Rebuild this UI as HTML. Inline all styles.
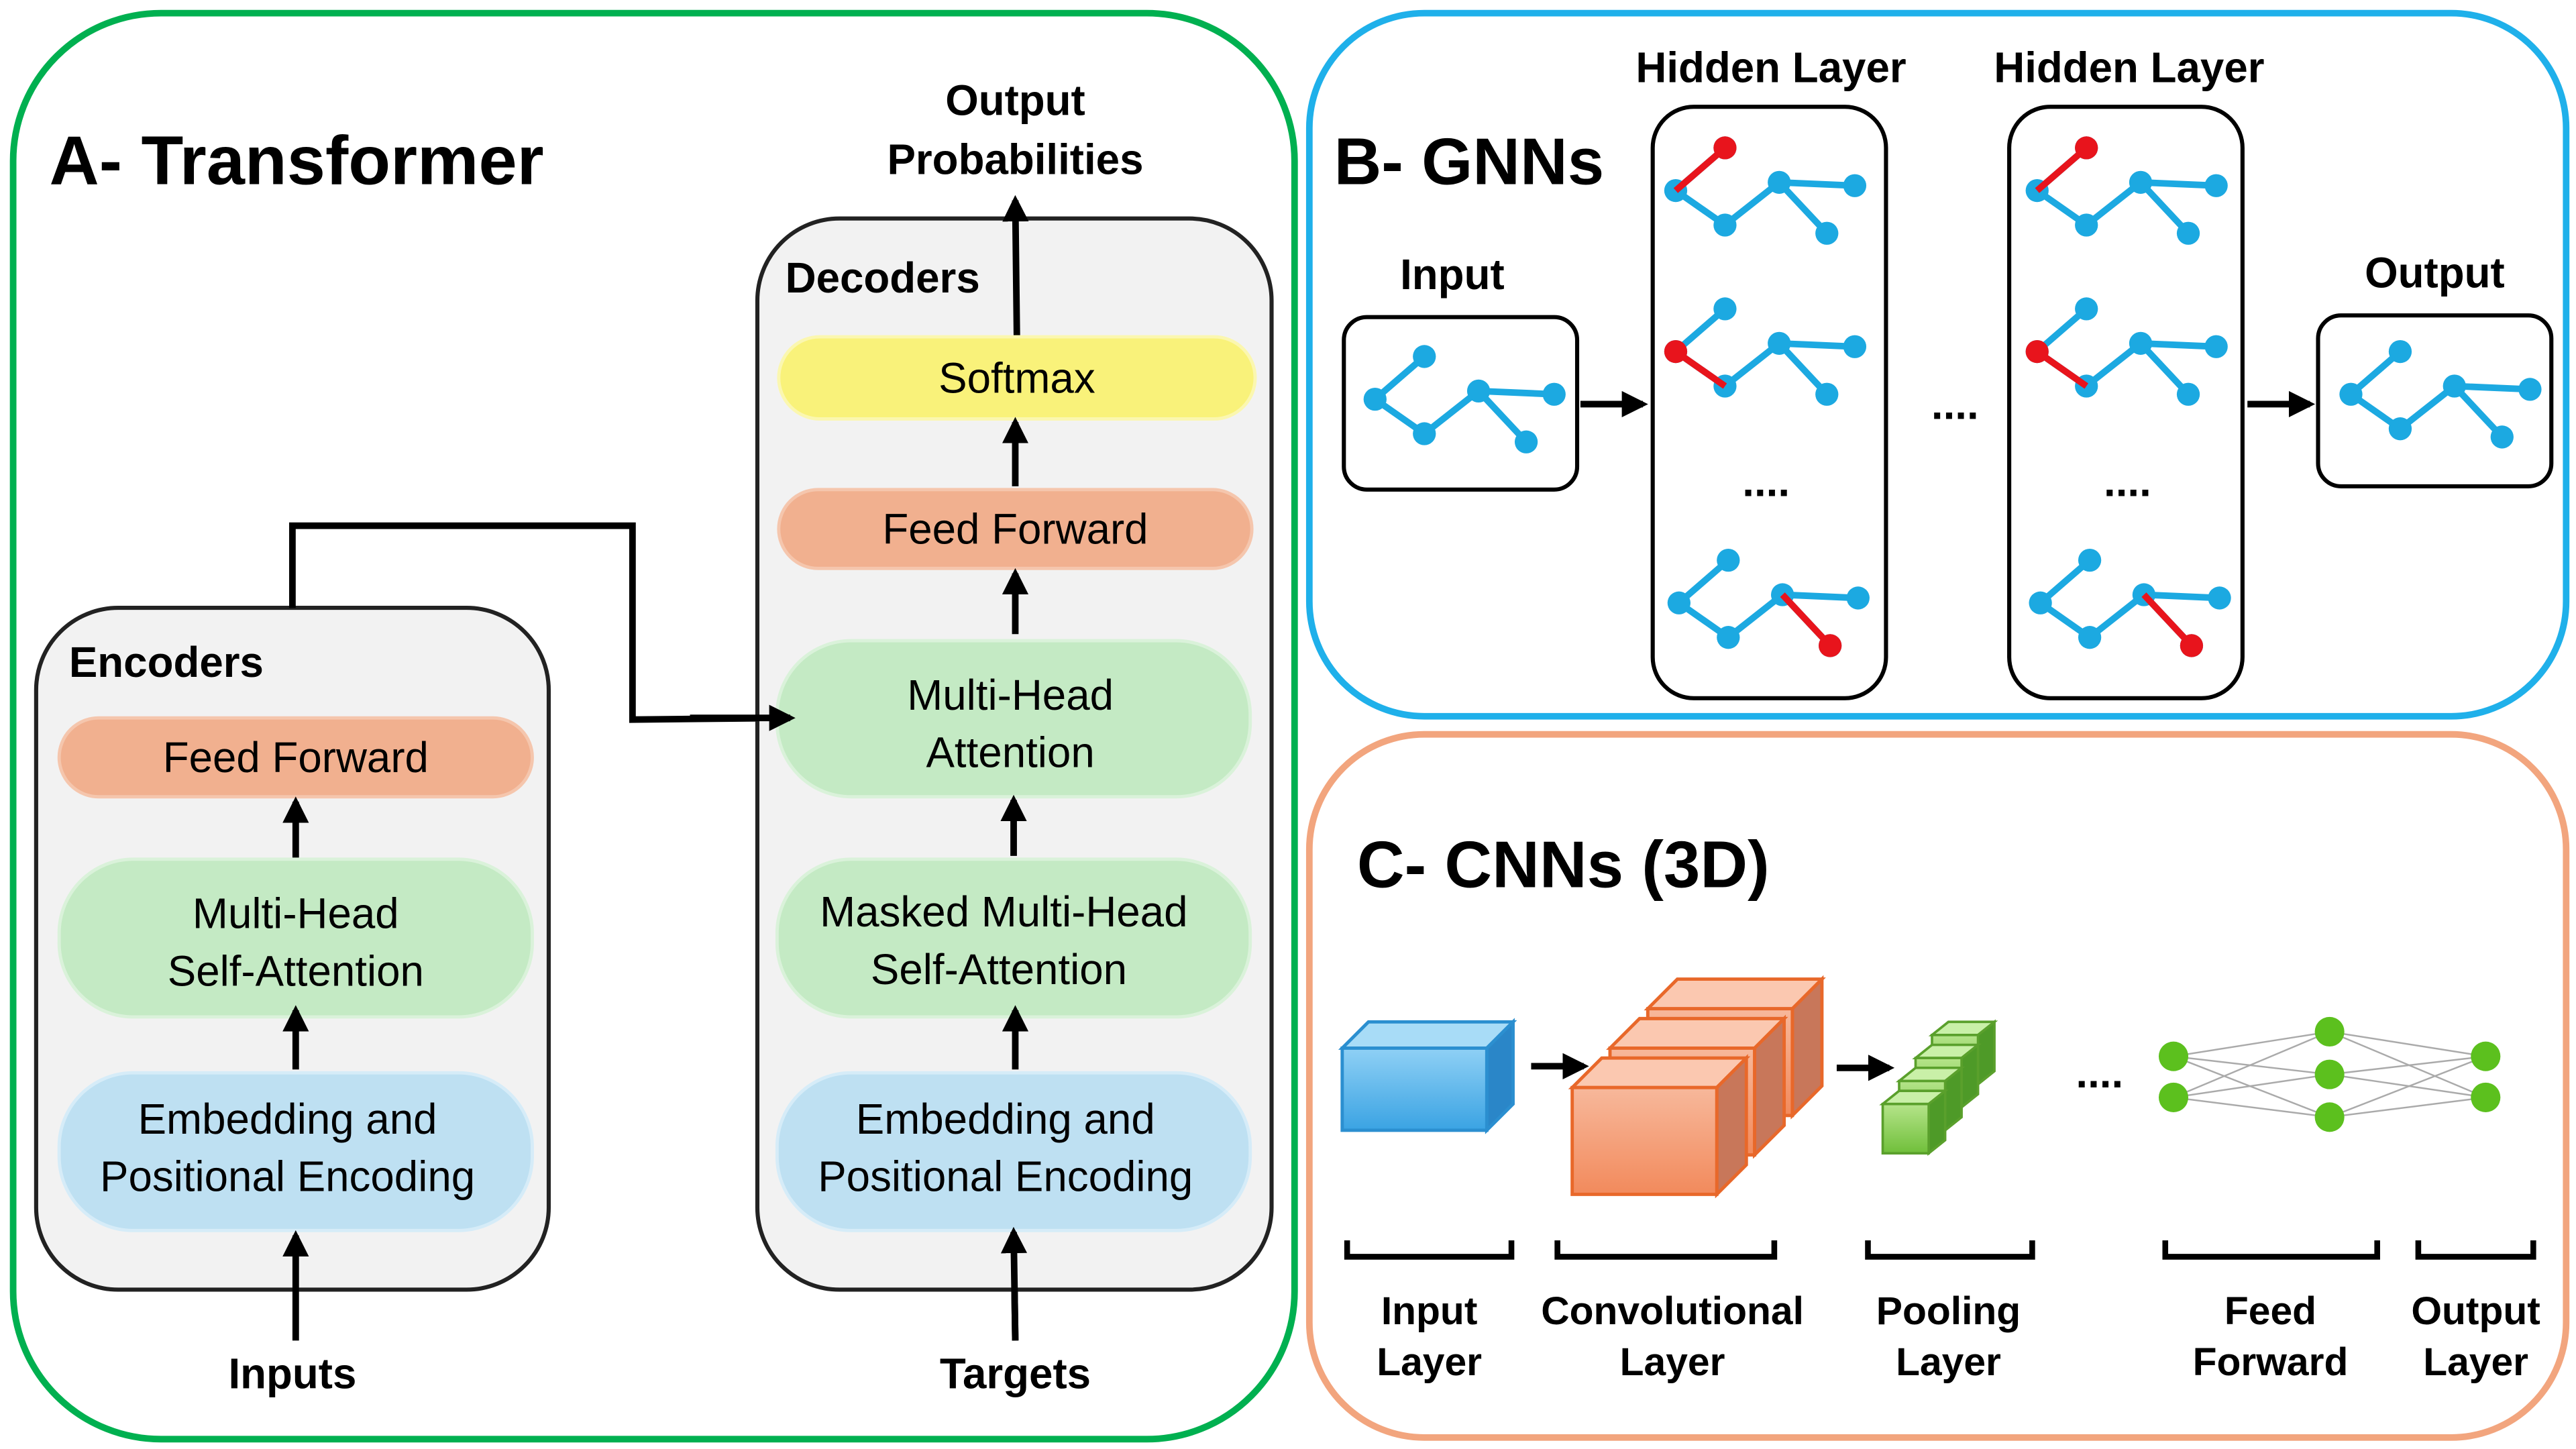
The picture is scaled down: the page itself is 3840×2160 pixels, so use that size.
<!DOCTYPE html>
<html><head><meta charset="utf-8"><style>html,body{margin:0;padding:0;background:#fff}svg{display:block}</style></head>
<body>
<svg width="3840" height="2160" viewBox="0 0 1568 882" preserveAspectRatio="none" xmlns="http://www.w3.org/2000/svg" font-family="Liberation Sans, sans-serif">
<defs>
<marker id="ah" viewBox="0 0 10 10" refX="8" refY="5" markerWidth="4" markerHeight="4" orient="auto"><path d="M0,0 L10,5 L0,10 z" fill="#000"/></marker>
<linearGradient id="gb" x1="0" y1="0" x2="0" y2="1"><stop offset="0" stop-color="#8fd0f5"/><stop offset="1" stop-color="#3aa3e3"/></linearGradient>
<linearGradient id="go" x1="0" y1="0" x2="0" y2="1"><stop offset="0" stop-color="#f7b89b"/><stop offset="1" stop-color="#f28a5c"/></linearGradient>
<linearGradient id="gg" x1="0" y1="0" x2="0" y2="1"><stop offset="0" stop-color="#b5e48a"/><stop offset="1" stop-color="#70bf3a"/></linearGradient>
</defs>
<!-- Panel A -->
<rect x="8" y="8" width="780" height="868" rx="90" fill="#fff" stroke="#00b050" stroke-width="4"/>
<text x="30" y="112" font-size="42" font-weight="bold">A- Transformer</text>
<rect x="22" y="370" width="312" height="415" rx="50" fill="#f2f2f2" stroke="#222" stroke-width="2.5"/>
<text x="42" y="412" font-size="26" font-weight="bold">Encoders</text>
<rect x="36" y="437" width="288" height="48" rx="24" fill="#f1b08f" stroke="#f5c6ad" stroke-width="2"/>
<text x="180" y="470" font-size="26" text-anchor="middle">Feed Forward</text>
<rect x="36" y="523" width="288" height="96" rx="45" fill="#c4eac4" stroke="#daf2da" stroke-width="2"/>
<text x="180" y="565" font-size="26" text-anchor="middle">Multi-Head</text>
<text x="180" y="600" font-size="26" text-anchor="middle">Self-Attention</text>
<rect x="36" y="653" width="288" height="96" rx="45" fill="#bee0f2" stroke="#d6ecf8" stroke-width="2"/>
<text x="175" y="690" font-size="26" text-anchor="middle">Embedding and</text>
<text x="175" y="725" font-size="26" text-anchor="middle">Positional Encoding</text>
<g stroke="#000" stroke-width="4" fill="none" marker-end="url(#ah)">
<line x1="180" y1="522" x2="180" y2="488"/>
<line x1="180" y1="651" x2="180" y2="615"/>
<line x1="180" y1="816" x2="180" y2="752"/>
<line x1="618" y1="296" x2="618" y2="257"/>
<line x1="618" y1="386" x2="618" y2="349"/>
<line x1="617" y1="521" x2="617" y2="487"/>
<line x1="618" y1="651" x2="618" y2="615"/>
<line x1="618" y1="816" x2="617" y2="750"/>
<line x1="619" y1="208" x2="618" y2="122"/>
<polyline points="178,370 178,320 385,320 385,438 481,437"/>
<line x1="962" y1="246" x2="1000" y2="246"/>
<line x1="1368" y1="246" x2="1406" y2="246"/>
<line x1="932" y1="649" x2="964" y2="649"/>
<line x1="1118" y1="650" x2="1150" y2="650"/>
</g>
<text x="178" y="845" font-size="26" font-weight="bold" text-anchor="middle">Inputs</text>
<rect x="461" y="133" width="313" height="652" rx="50" fill="#f2f2f2" stroke="#222" stroke-width="2.5"/>
<line x1="619" y1="208" x2="618" y2="122" stroke="#000" stroke-width="4" marker-end="url(#ah)"/>
<text x="478" y="178" font-size="26" font-weight="bold">Decoders</text>
<rect x="474" y="205" width="290" height="50" rx="25" fill="#f9f27a" stroke="#fbf7b0" stroke-width="2"/>
<text x="619" y="239" font-size="26" text-anchor="middle">Softmax</text>
<rect x="474" y="298" width="288" height="48" rx="24" fill="#f1b08f" stroke="#f5c6ad" stroke-width="2"/>
<text x="618" y="331" font-size="26" text-anchor="middle">Feed Forward</text>
<rect x="473" y="390" width="288" height="95" rx="45" fill="#c4eac4" stroke="#daf2da" stroke-width="2"/>
<text x="615" y="432" font-size="26" text-anchor="middle">Multi-Head</text>
<text x="615" y="467" font-size="26" text-anchor="middle">Attention</text>
<rect x="473" y="523" width="288" height="96" rx="45" fill="#c4eac4" stroke="#daf2da" stroke-width="2"/>
<text x="611" y="564" font-size="26" text-anchor="middle">Masked Multi-Head</text>
<text x="608" y="599" font-size="26" text-anchor="middle">Self-Attention</text>
<rect x="473" y="653" width="288" height="96" rx="45" fill="#bee0f2" stroke="#d6ecf8" stroke-width="2"/>
<text x="612" y="690" font-size="26" text-anchor="middle">Embedding and</text>
<text x="612" y="725" font-size="26" text-anchor="middle">Positional Encoding</text>
<g stroke="#000" stroke-width="4" fill="none" marker-end="url(#ah)">
<line x1="618" y1="296" x2="618" y2="257"/>
<line x1="618" y1="386" x2="618" y2="349"/>
<line x1="617" y1="521" x2="617" y2="487"/>
<line x1="618" y1="651" x2="618" y2="615"/>
<line x1="618" y1="816" x2="617" y2="750"/>
<line x1="420" y1="437" x2="481" y2="437"/>
</g>
<text x="618" y="845" font-size="26" font-weight="bold" text-anchor="middle">Targets</text>
<text x="618" y="70" font-size="26" font-weight="bold" text-anchor="middle">Output</text>
<text x="618" y="106" font-size="26" font-weight="bold" text-anchor="middle">Probabilities</text>

<!-- Panel B -->
<rect x="797" y="8" width="765" height="428" rx="70" fill="none" stroke="#1fb0ea" stroke-width="4"/>
<text x="812" y="112" font-size="40" font-weight="bold">B- GNNs</text>
<text x="1078" y="50" font-size="26" font-weight="bold" text-anchor="middle">Hidden Layer</text>
<text x="1296" y="50" font-size="26" font-weight="bold" text-anchor="middle">Hidden Layer</text>
<text x="884" y="176" font-size="26" font-weight="bold" text-anchor="middle">Input</text>
<text x="1482" y="175" font-size="26" font-weight="bold" text-anchor="middle">Output</text>
<g fill="none" stroke="#000" stroke-width="2.5">
<rect x="818" y="193" width="142" height="105" rx="14"/>
<rect x="1006" y="65" width="142" height="360" rx="25"/>
<rect x="1223" y="65" width="142" height="360" rx="25"/>
<rect x="1411" y="192" width="142" height="104" rx="14"/>
</g>
<g font-size="26" font-weight="bold" text-anchor="middle">
<text x="1190" y="255">....</text><text x="1075" y="302">....</text><text x="1295" y="302">....</text>
</g>
<defs>
<g id="gr">
<g stroke="#1ca9e1" stroke-width="4"><line x1="19" y1="50" x2="49" y2="24"/><line x1="19" y1="50" x2="49" y2="71"/><line x1="49" y1="71" x2="82" y2="45"/><line x1="82" y1="45" x2="128" y2="47"/><line x1="82" y1="45" x2="111" y2="76"/></g>
<g fill="#1ca9e1"><circle cx="19" cy="50" r="7"/><circle cx="49" cy="24" r="7"/><circle cx="49" cy="71" r="7"/><circle cx="82" cy="45" r="7"/><circle cx="111" cy="76" r="7"/><circle cx="128" cy="47" r="7"/></g>
</g>
<g id="r1"><line x1="19" y1="50" x2="49" y2="24" stroke="#e8141c" stroke-width="4"/><circle cx="49" cy="24" r="7" fill="#e8141c"/></g>
<g id="r2"><line x1="19" y1="50" x2="49" y2="71" stroke="#e8141c" stroke-width="4"/><circle cx="19" cy="50" r="7" fill="#e8141c"/></g>
<g id="r3"><line x1="82" y1="45" x2="111" y2="76" stroke="#e8141c" stroke-width="4"/><circle cx="111" cy="76" r="7" fill="#e8141c"/></g>
</defs>
<use href="#gr" x="818" y="193"/>
<use href="#gr" x="1001" y="66"/><use href="#r1" x="1001" y="66"/>
<use href="#gr" x="1001" y="164"/><use href="#r2" x="1001" y="164"/>
<use href="#gr" x="1003" y="317"/><use href="#r3" x="1003" y="317"/>
<use href="#gr" x="1221" y="66"/><use href="#r1" x="1221" y="66"/>
<use href="#gr" x="1221" y="164"/><use href="#r2" x="1221" y="164"/>
<use href="#gr" x="1223" y="317"/><use href="#r3" x="1223" y="317"/>
<use href="#gr" x="1412" y="190"/>

<!-- Panel C -->
<rect x="797" y="447" width="765" height="428" rx="70" fill="none" stroke="#f2a57e" stroke-width="4"/>
<text x="826" y="540" font-size="40" font-weight="bold">C- CNNs (3D)</text>
<!-- input cube -->
<g stroke="#2b8fd0" stroke-width="2">
<polygon points="817,638 833,622 921,622 905,638" fill="#a8dcf7"/>
<polygon points="905,638 921,622 921,672 905,688" fill="#2a86c8"/>
<rect x="817" y="638" width="88" height="50" fill="url(#gb)"/>
</g>
<!-- conv cubes -->
<g stroke="#e8682a" stroke-width="2">
<g transform="translate(46,-48)"><polygon points="957,662 975,644 1063,644 1045,662" fill="#fbc8b0"/><polygon points="1045,662 1063,644 1063,709 1045,727" fill="#c8775a"/><rect x="957" y="662" width="88" height="65" fill="url(#go)"/></g>
<g transform="translate(23,-24)"><polygon points="957,662 975,644 1063,644 1045,662" fill="#fbc8b0"/><polygon points="1045,662 1063,644 1063,709 1045,727" fill="#c8775a"/><rect x="957" y="662" width="88" height="65" fill="url(#go)"/></g>
<polygon points="957,662 975,644 1063,644 1045,662" fill="#fbc8b0"/><polygon points="1045,662 1063,644 1063,709 1045,727" fill="#c8775a"/><rect x="957" y="662" width="88" height="65" fill="url(#go)"/>
</g>
<!-- pooling cubes -->
<g stroke="#5aa02c" stroke-width="1.5">
<g transform="translate(30,-42)"><polygon points="1146,672 1156,664 1184,664 1174,672" fill="#c9f0a8"/><polygon points="1174,672 1184,664 1184,694 1174,702" fill="#4e9a28"/><rect x="1146" y="672" width="28" height="30" fill="url(#gg)"/></g>
<g transform="translate(20,-28)"><polygon points="1146,672 1156,664 1184,664 1174,672" fill="#c9f0a8"/><polygon points="1174,672 1184,664 1184,694 1174,702" fill="#4e9a28"/><rect x="1146" y="672" width="28" height="30" fill="url(#gg)"/></g>
<g transform="translate(10,-14)"><polygon points="1146,672 1156,664 1184,664 1174,672" fill="#c9f0a8"/><polygon points="1174,672 1184,664 1184,694 1174,702" fill="#4e9a28"/><rect x="1146" y="672" width="28" height="30" fill="url(#gg)"/></g>
<polygon points="1146,672 1156,664 1184,664 1174,672" fill="#c9f0a8"/><polygon points="1174,672 1184,664 1184,694 1174,702" fill="#4e9a28"/><rect x="1146" y="672" width="28" height="30" fill="url(#gg)"/>
</g>
<text x="1278" y="662" font-size="26" font-weight="bold" text-anchor="middle">....</text>
<!-- feed forward net -->
<g stroke="#aaa" stroke-width="1">
<line x1="1323" y1="643" x2="1418" y2="628"/><line x1="1323" y1="643" x2="1418" y2="654"/><line x1="1323" y1="643" x2="1418" y2="680"/>
<line x1="1323" y1="668" x2="1418" y2="628"/><line x1="1323" y1="668" x2="1418" y2="654"/><line x1="1323" y1="668" x2="1418" y2="680"/>
<line x1="1513" y1="643" x2="1418" y2="628"/><line x1="1513" y1="643" x2="1418" y2="654"/><line x1="1513" y1="643" x2="1418" y2="680"/>
<line x1="1513" y1="668" x2="1418" y2="628"/><line x1="1513" y1="668" x2="1418" y2="654"/><line x1="1513" y1="668" x2="1418" y2="680"/>
</g>
<g fill="#5cc01e"><circle cx="1323" cy="643" r="9"/><circle cx="1323" cy="668" r="9"/><circle cx="1418" cy="628" r="9"/><circle cx="1418" cy="654" r="9"/><circle cx="1418" cy="680" r="9"/><circle cx="1513" cy="643" r="9"/><circle cx="1513" cy="668" r="9"/></g>
<!-- brackets -->
<g fill="none" stroke="#000" stroke-width="3.5">
<polyline points="820,755 820,765 920,765 920,755"/>
<polyline points="948,755 948,765 1080,765 1080,755"/>
<polyline points="1137,755 1137,765 1237,765 1237,755"/>
<polyline points="1318,755 1318,765 1447,765 1447,755"/>
<polyline points="1472,755 1472,765 1542,765 1542,755"/>
</g>
<g font-size="24" font-weight="bold" text-anchor="middle">
<text x="870" y="806">Input</text><text x="870" y="837">Layer</text>
<text x="1018" y="806">Convolutional</text><text x="1018" y="837">Layer</text>
<text x="1186" y="806">Pooling</text><text x="1186" y="837">Layer</text>
<text x="1382" y="806">Feed</text><text x="1382" y="837">Forward</text>
<text x="1507" y="806">Output</text><text x="1507" y="837">Layer</text>
</g>
</svg>
</body></html>
